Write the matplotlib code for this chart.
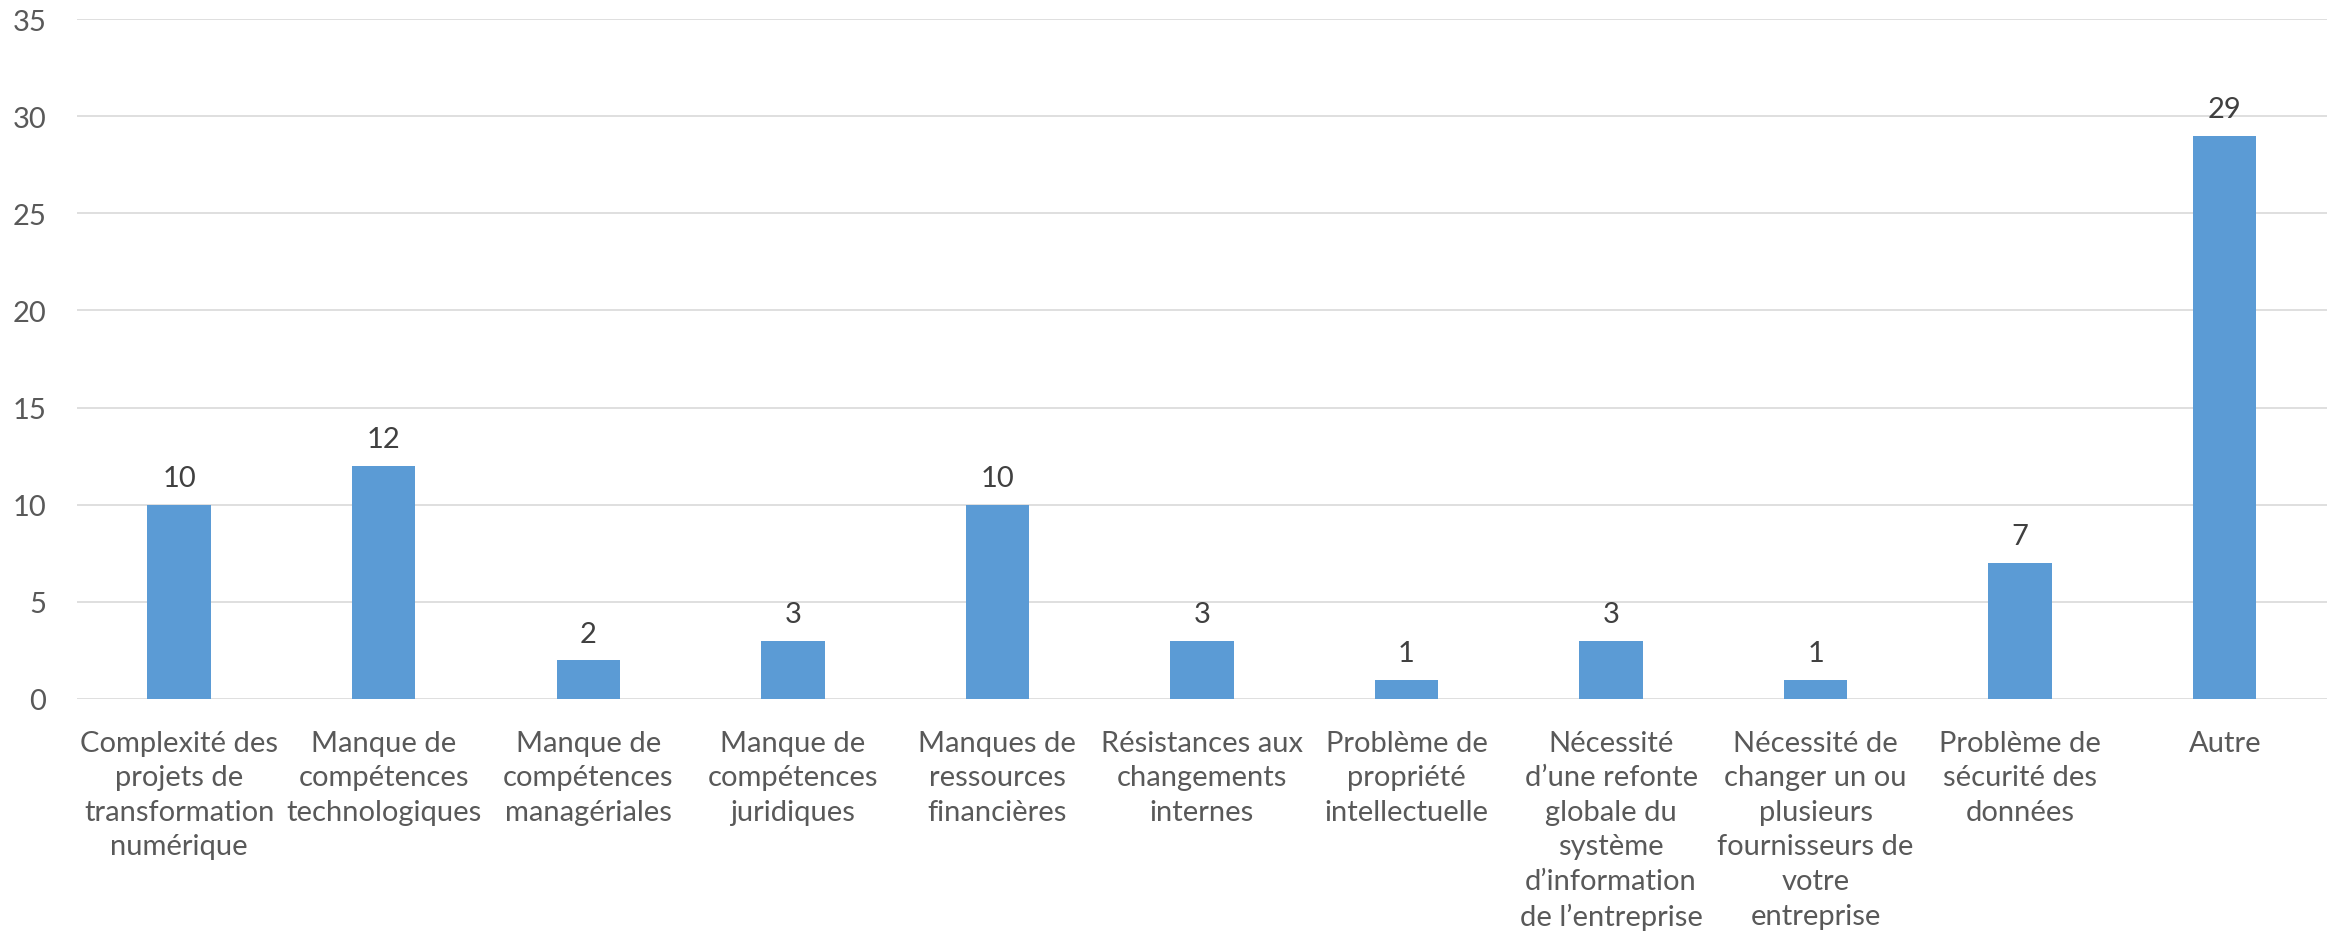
import matplotlib
matplotlib.use("Agg")
import matplotlib.pyplot as plt

plt.rcParams["font.family"] = ["Lato", "DejaVu Sans"]

categories = [
    "Complexité des\nprojets de\ntransformation\nnumérique",
    "Manque de\ncompétences\ntechnologiques",
    "Manque de\ncompétences\nmanagériales",
    "Manque de\ncompétences\njuridiques",
    "Manques de\nressources\nfinancières",
    "Résistances aux\nchangements\ninternes",
    "Problème de\npropriété\nintellectuelle",
    "Nécessité\nd’une refonte\nglobale du\nsystème\nd’information\nde l’entreprise",
    "Nécessité de\nchanger un ou\nplusieurs\nfournisseurs de\nvotre\nentreprise",
    "Problème de\nsécurité des\ndonnées",
    "Autre",
]
values = [10, 12, 2, 3, 10, 3, 1, 3, 1, 7, 29]
yticks = [0, 5, 10, 15, 20, 25, 30, 35]

fig = plt.figure(figsize=(23.38, 9.53), dpi=100)
ax = fig.add_axes([0.0329, 0.2655, 0.9624, 0.7135])

x = range(len(values))
bars = ax.bar(x, values, width=0.31, color="#5B9BD5", zorder=3)
for b, v in zip(bars, values):
    ax.text(b.get_x() + b.get_width() / 2, v + 0.7, str(v), ha="center", va="bottom",
            fontsize=21, color="#404040")

ax.set_xlim(-0.5, len(values) - 0.5)
ax.set_ylim(0, 35)
ax.set_yticks(yticks)
ax.set_xticks(list(x))
ax.set_xticklabels(categories, fontsize=21, color="#595959", linespacing=1.41, va="top")
ax.tick_params(axis="y", length=0, pad=22, labelsize=21, labelcolor="#595959")
ax.tick_params(axis="x", length=0, pad=22)
ax.grid(axis="y", color="#D9D9D9", linewidth=1.2, zorder=0)
for s in ax.spines.values():
    s.set_visible(False)

fig.savefig("out.png", dpi=100, facecolor="white")
